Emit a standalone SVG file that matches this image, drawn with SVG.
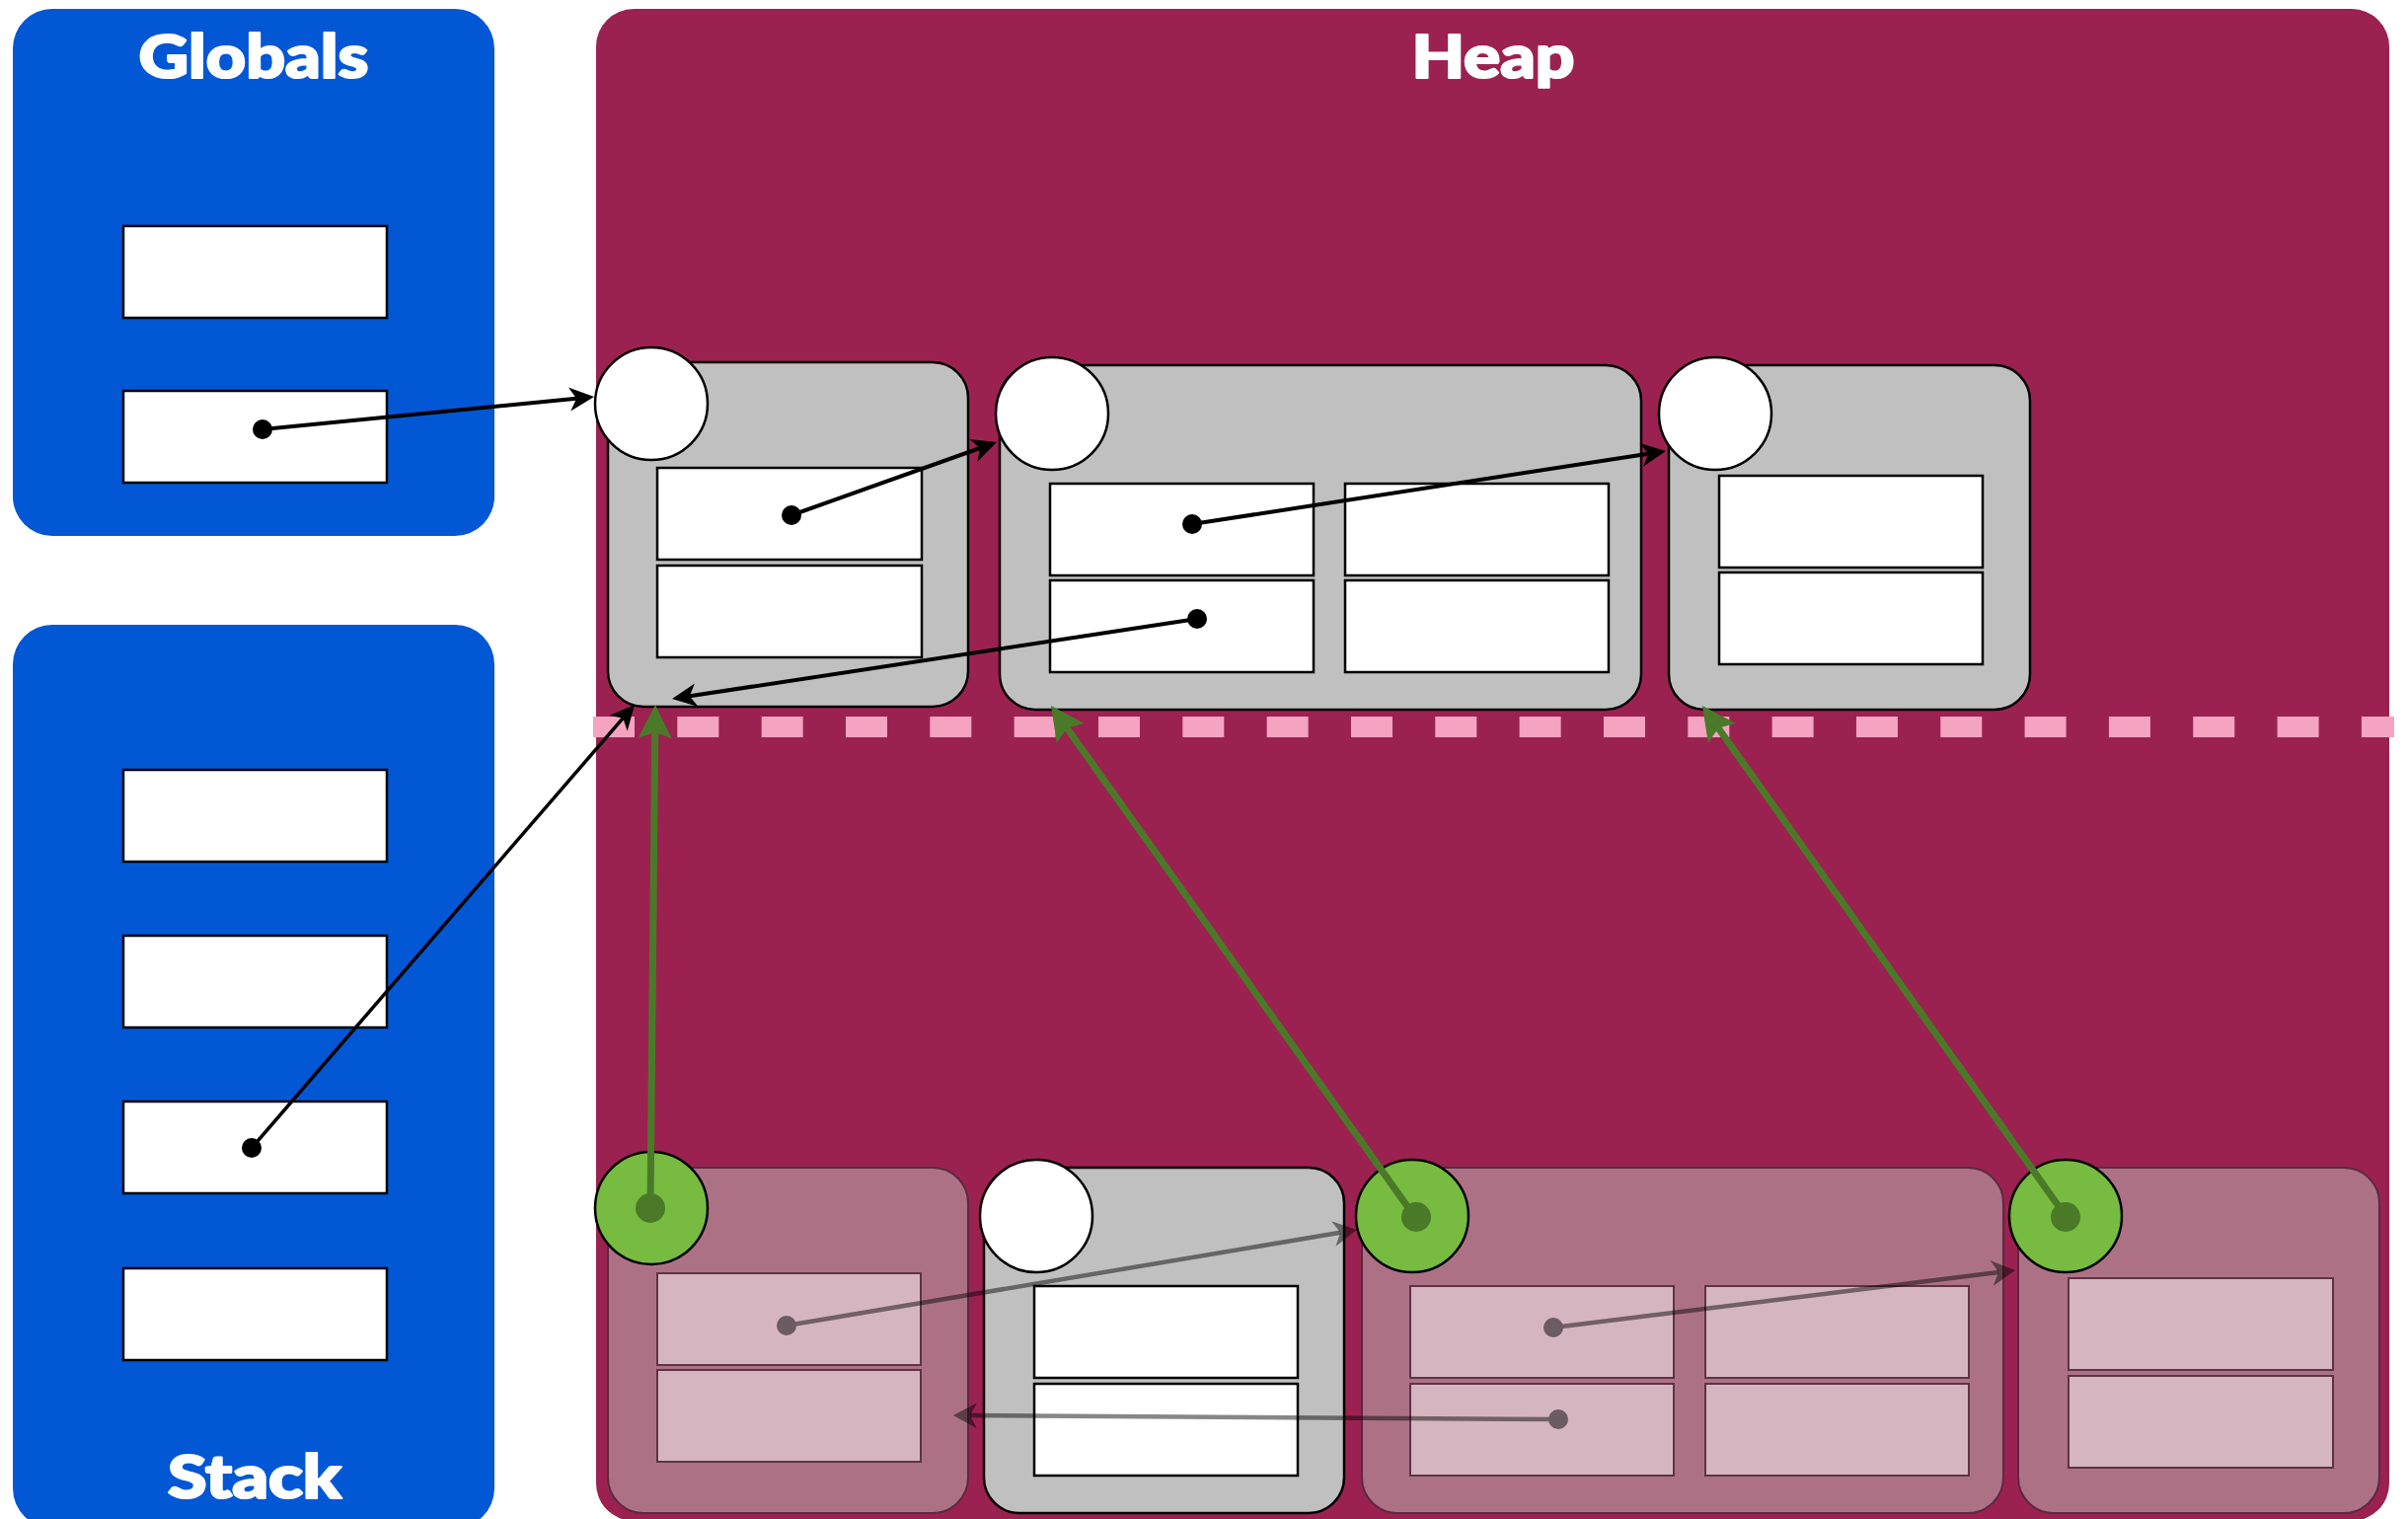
<svg xmlns="http://www.w3.org/2000/svg" width="2440" height="1539" viewBox="0 0 2440 1539">
  <style>
    .region-label { font-family: Lato, "Open Sans", "DejaVu Sans", sans-serif; font-weight: 900; font-size: 60px; fill: #fff; stroke: #fff; stroke-width: 2.2; stroke-linejoin: round; text-anchor: middle; }
    .root-area { fill: #0257D5; }
    .heap-area { fill: #9B2250; }
    .obj { fill: #C0C0C0; stroke: #000; stroke-width: 2.5; }
    .slot { fill: #fff; stroke: #000; stroke-width: 2.5; }
    .hdr { fill: #fff; stroke: #000; stroke-width: 2.5; }
    .dead { fill: #AD7186; stroke: #5A2A3E; stroke-width: 2; }
    .dslot { fill: #D5B5C0; stroke: #5E3345; stroke-width: 2; }
    .mark { fill: #77BB41; stroke: #000; stroke-width: 2.5; }
    .mdot { fill: #4A7A28; }
    .ptr { fill: none; stroke: #000; stroke-width: 4; marker-end: url(#head); }
    .ptr-thin { fill: none; stroke: #000; stroke-width: 3.5; marker-end: url(#head); }
    .fwd { fill: none; stroke: #4A7A28; stroke-width: 7; marker-end: url(#head-green); }
    .stale { fill: none; stroke: #000; stroke-opacity: 0.47; stroke-width: 4.5; marker-end: url(#head-gray); }
    .pdot { fill: #000; }
    .sdot { fill: #6B5B63; }
    .boundary { fill: none; stroke: #F4A3C1; stroke-width: 21; stroke-dasharray: 42 43.33; }
  </style>
  <defs>
    <marker id="head" markerUnits="userSpaceOnUse" viewBox="-8 -13 28 26" markerWidth="28" markerHeight="26" refX="0" refY="0" orient="auto" overflow="visible">
      <path d="M18,0 L-7,-12 L0,0 L-7,12 Z" fill="#000"/>
    </marker>
    <marker id="head-green" markerUnits="userSpaceOnUse" viewBox="-7 -18 36 36" markerWidth="36" markerHeight="36" refX="0" refY="0" orient="auto" overflow="visible">
      <path d="M28,0 L-6,-17 L0,0 L-6,17 Z" fill="#4A7A28"/>
    </marker>
    <marker id="head-gray" markerUnits="userSpaceOnUse" viewBox="-8 -14 26 28" markerWidth="26" markerHeight="28" refX="0" refY="0" orient="auto" overflow="visible">
      <path d="M17,0 L-7,-13 L0,0 L-7,13 Z" fill="#000" fill-opacity="0.47"/>
    </marker>
  </defs>

  <rect width="2440" height="1539" fill="#fff"/>

  <!-- Globals root area -->
  <g id="globals">
    <rect class="root-area" x="13" y="9" width="488" height="534" rx="40"/>
    <text class="region-label" x="257" y="79" textLength="233" lengthAdjust="spacingAndGlyphs">Globals</text>
    <rect class="slot" x="125" y="229" width="267" height="93"/>
    <rect class="slot" x="125" y="396" width="267" height="93"/>
  </g>

  <!-- Stack root area -->
  <g id="stack">
    <rect class="root-area" x="13" y="633" width="488" height="915" rx="40"/>
    <text class="region-label" x="258" y="1518" textLength="176" lengthAdjust="spacingAndGlyphs">Stack</text>
    <rect class="slot" x="125" y="780" width="267" height="93"/>
    <rect class="slot" x="125" y="948" width="267" height="93"/>
    <rect class="slot" x="125" y="1116" width="267" height="93"/>
    <rect class="slot" x="125" y="1285" width="267" height="93"/>
  </g>

  <!-- Heap area with the space boundary -->
  <g id="heap">
    <rect class="heap-area" x="604" y="9" width="1817" height="1532" rx="38"/>
    <text class="region-label" x="1513" y="79" textLength="165" lengthAdjust="spacingAndGlyphs">Heap</text>
    <line class="boundary" x1="601" y1="736.5" x2="2426" y2="736.5"/>
  </g>

  <!-- Objects in the new space -->
  <g id="obj-a">
    <rect class="obj" x="616" y="367" width="365" height="349" rx="36"/>
    <circle class="hdr" cx="660" cy="409" r="57"/>
    <rect class="slot" x="666" y="474" width="268" height="93"/>
    <rect class="slot" x="666" y="573" width="268" height="93"/>
  </g>
  <g id="obj-b">
    <rect class="obj" x="1013" y="370" width="650" height="349" rx="36"/>
    <circle class="hdr" cx="1066" cy="419" r="57"/>
    <rect class="slot" x="1064" y="490" width="267" height="93"/>
    <rect class="slot" x="1363" y="490" width="267" height="93"/>
    <rect class="slot" x="1064" y="588" width="267" height="93"/>
    <rect class="slot" x="1363" y="588" width="267" height="93"/>
  </g>
  <g id="obj-c">
    <rect class="obj" x="1691" y="370" width="366" height="349" rx="36"/>
    <circle class="hdr" cx="1738" cy="419" r="57"/>
    <rect class="slot" x="1742" y="482" width="267" height="93"/>
    <rect class="slot" x="1742" y="580" width="267" height="93"/>
  </g>

  <!-- Objects in the old space -->
  <g id="obj-d">
    <rect class="dead" x="616" y="1183" width="365" height="350" rx="36"/>
    <rect class="dslot" x="666" y="1290" width="267" height="93"/>
    <rect class="dslot" x="666" y="1388" width="267" height="93"/>
    <circle class="mark" cx="660" cy="1224" r="57"/>
  </g>
  <g id="obj-e">
    <rect class="obj" x="997" y="1183" width="365" height="350" rx="36"/>
    <circle class="hdr" cx="1050" cy="1232" r="57"/>
    <rect class="slot" x="1048" y="1303" width="267" height="93"/>
    <rect class="slot" x="1048" y="1402" width="267" height="93"/>
  </g>
  <g id="obj-f">
    <rect class="dead" x="1380" y="1183" width="650" height="350" rx="36"/>
    <rect class="dslot" x="1429" y="1303" width="267" height="93"/>
    <rect class="dslot" x="1728" y="1303" width="267" height="93"/>
    <rect class="dslot" x="1429" y="1402" width="267" height="93"/>
    <rect class="dslot" x="1728" y="1402" width="267" height="93"/>
    <circle class="mark" cx="1431" cy="1232" r="57"/>
  </g>
  <g id="obj-g">
    <rect class="dead" x="2045" y="1183" width="366" height="350" rx="36"/>
    <rect class="dslot" x="2096" y="1295" width="268" height="93"/>
    <rect class="dslot" x="2096" y="1394" width="268" height="93"/>
    <circle class="mark" cx="2093" cy="1232" r="57"/>
  </g>

  <!-- Pointers -->
  <g id="connectors">
    <!-- stale pointers inside old copies -->
    <line class="stale" x1="797" y1="1343" x2="1358.2" y2="1248.8"/>
    <line class="stale" x1="1574" y1="1345" x2="2025.1" y2="1289.1"/>
    <line class="stale" x1="1579" y1="1438" x2="983" y2="1434.1"/>
    <circle class="sdot" cx="797" cy="1343" r="10"/>
    <circle class="sdot" cx="1574" cy="1345" r="10"/>
    <circle class="sdot" cx="1579" cy="1438" r="10"/>

    <!-- live pointers -->
    <line class="ptr" x1="266" y1="435" x2="584.1" y2="403.8"/>
    <line class="ptr" x1="802" y1="522" x2="993" y2="454"/>
    <line class="ptr" x1="1208" y1="531" x2="1670.2" y2="459.7"/>
    <line class="ptr" x1="1213" y1="627" x2="698.8" y2="705.3"/>
    <line class="ptr-thin" x1="255" y1="1163" x2="631.2" y2="727.6"/>
    <circle class="pdot" cx="266" cy="435" r="10"/>
    <circle class="pdot" cx="802" cy="522" r="10"/>
    <circle class="pdot" cx="1208" cy="531" r="10"/>
    <circle class="pdot" cx="1213" cy="627" r="10"/>
    <circle class="pdot" cx="255" cy="1163" r="10"/>

    <!-- forwarding pointers -->
    <line class="fwd" x1="659" y1="1224" x2="663.7" y2="742"/>
    <line class="fwd" x1="1433" y1="1232" x2="1081.2" y2="737.8"/>
    <line class="fwd" x1="2093" y1="1232" x2="1741.2" y2="737.8"/>
    <circle class="mdot" cx="659" cy="1224" r="15"/>
    <circle class="mdot" cx="1435" cy="1233" r="15"/>
    <circle class="mdot" cx="2093" cy="1233" r="15"/>
  </g>
</svg>
